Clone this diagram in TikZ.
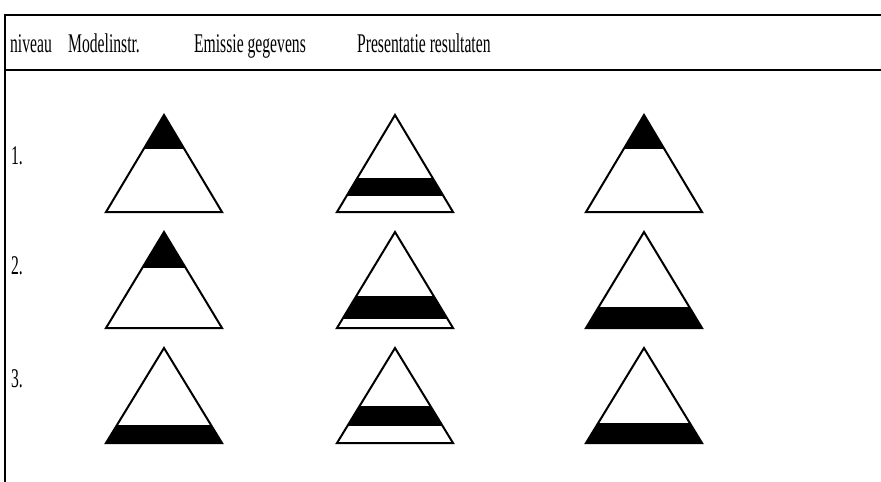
\documentclass[tikz,border=0pt]{standalone}
\usepackage{fontspec}
\setmainfont{Liberation Serif}
\newcommand{\drawtri}[5]{%
  \begin{scope}
    \clip (#1,#2) -- (#1-58,#3) -- (#1+58,#3) -- cycle;
    \fill[black] (#1-60,#4) rectangle (#1+60,#5);
  \end{scope}
  \draw[triline] (#1,#2) -- (#1-58,#3) -- (#1+58,#3) -- cycle;
}
\begin{document}
\begin{tikzpicture}[x=1pt,y=-1pt,
  frameline/.style={line width=1.8pt},
  triline/.style={line width=2pt,line join=miter},
  lbl/.style={anchor=base west,inner sep=0pt,font=\fontsize{27}{29}\selectfont,xscale=0.58}]
\useasboundingbox (0,0) rectangle (881,482);
% frame
\draw[frameline] (881,15) -- (5,15) -- (5,482);
\draw[frameline] (5,70) -- (881,70);
% header
\node[lbl] (hniv) at (10,52) {niveau};
\node[lbl] (hmod) at (68,52) {Modelinstr.};
\node[lbl] (hemi) at (194,52) {Emissie gegevens};
\node[lbl] (hpre) at (357,52) {Presentatie resultaten};
% row labels
\node[lbl] (l1) at (11,164) {1.};
\node[lbl] (l2) at (11,274) {2.};
\node[lbl] (l3) at (11,387) {3.};
% row 1
\drawtri{164}{115}{212}{115}{149}
\drawtri{395}{115}{212}{178}{196}
\drawtri{644}{115}{212}{115}{149}
% row 2
\drawtri{164}{232}{328}{232}{268}
\drawtri{395}{232}{328}{296}{319}
\drawtri{644}{232}{328}{307}{328}
% row 3
\drawtri{164}{348}{443}{425}{443}
\drawtri{395}{348}{443}{406}{426}
\drawtri{644}{348}{443}{423}{443}
\end{tikzpicture}
\end{document}
